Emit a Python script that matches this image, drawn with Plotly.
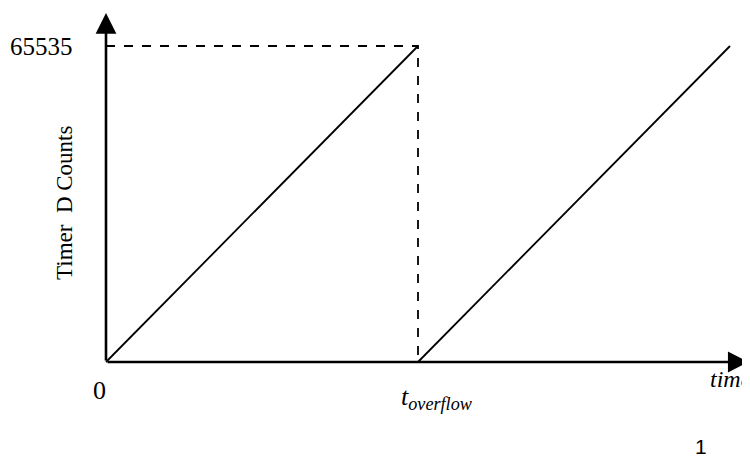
import plotly.graph_objects as go

# timer ramp data (time in units of t_overflow, counts)
ramp1_t = [0, 1]
ramp1_counts = [0, 65535]
ramp2_t = [1, 2]
ramp2_counts = [0, 65535]
t_overflow = 1
max_count = 65535

# axis extents (data units)
x_axis_end = 2.06
y_axis_end = 72400

serif = "Liberation Serif"

fig = go.Figure()

# the two ramps
fig.add_trace(go.Scatter(x=ramp1_t, y=ramp1_counts, mode="lines",
                         line=dict(color="black", width=1.8), hoverinfo="skip"))
fig.add_trace(go.Scatter(x=ramp2_t, y=ramp2_counts, mode="lines",
                         line=dict(color="black", width=1.8), hoverinfo="skip"))

# dashed guides at the overflow
fig.add_trace(go.Scatter(x=[0, t_overflow, t_overflow], y=[max_count, max_count, 0],
                         mode="lines", line=dict(color="black", width=1.8, dash="dash"),
                         hoverinfo="skip"))

# axes with arrow heads
fig.add_annotation(x=x_axis_end, y=0, ax=0, ay=0, xref="x", yref="y", axref="x", ayref="y",
                   showarrow=True, arrowhead=2, arrowsize=1.6, arrowwidth=2.6,
                   arrowcolor="black", text="")
fig.add_annotation(x=0, y=y_axis_end, ax=0, ay=0, xref="x", yref="y", axref="x", ayref="y",
                   showarrow=True, arrowhead=2, arrowsize=1.6, arrowwidth=2.6,
                   arrowcolor="black", text="")

# labels
fig.add_annotation(x=0, y=max_count, xref="x", yref="y", text="65535", showarrow=False,
                   xanchor="right", xshift=-31, font=dict(family=serif, size=25, color="black"))
fig.add_annotation(x=0, y=0, xref="x", yref="y", text="0", showarrow=False,
                   yshift=-28, xshift=-7,
                   font=dict(family=serif, size=26, color="black"))
fig.add_annotation(x=t_overflow, y=0, xref="x", yref="y",
                   text="<i>t<sub>overflow</sub></i>", showarrow=False,
                   yanchor="top", yshift=-18, xshift=18,
                   font=dict(family=serif, size=26, color="black"))
fig.add_annotation(x=2, y=0, xref="x", yref="y", text="<i>time</i>", showarrow=False,
                   xanchor="left", xshift=-22, yshift=-17,
                   font=dict(family=serif, size=24, color="black"))
fig.add_annotation(x=0, y=max_count / 2, xref="x", yref="y", text="Timer  D Counts",
                   showarrow=False, textangle=-90, xshift=-42, yshift=1,
                   font=dict(family=serif, size=23, color="black"))
fig.add_annotation(x=2, y=0, xref="x", yref="y", text="1", showarrow=False,
                   xshift=-29, yshift=-84,
                   font=dict(family="Liberation Sans", size=21, color="black"))

# the page body adds an 8px margin, so ranges are set for the content to land where
# it sits in the window
fig.update_layout(width=750, height=459, margin=dict(l=0, r=0, t=0, b=0),
                  plot_bgcolor="white", paper_bgcolor="white", showlegend=False)
fig.update_xaxes(range=[-0.3141, 2.0897], visible=False)
fig.update_yaxes(range=[-21776, 73416], visible=False)

fig.write_html("out.html")
